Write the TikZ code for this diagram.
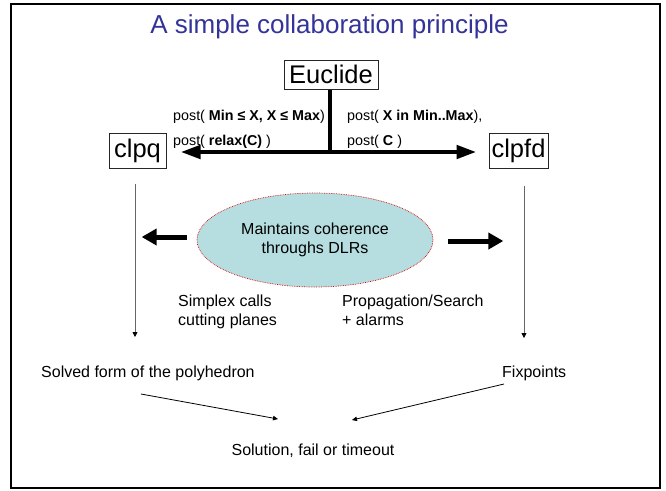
\documentclass[tikz,border=0pt]{standalone}
\usepackage{fontspec}
\setmainfont{Liberation Sans}
\usetikzlibrary{arrows.meta,shapes.geometric}
\definecolor{titleblue}{RGB}{51,51,153}
\definecolor{ellfill}{RGB}{182,222,224}
\begin{document}
\begin{tikzpicture}[x=1pt,y=-1pt,
  box/.style={draw=black!85,line width=1pt,inner sep=0pt,font=\fontsize{25.5}{28}\selectfont},
  lbl/.style={inner sep=0pt,font=\fontsize{14.3}{17}\selectfont},
  txt/.style={inner sep=0pt,font=\fontsize{16}{19.3}\selectfont},
  toparrow/.style={line width=4.5pt,-{Triangle[length=20pt,width=13pt]}},
  sidearrow/.style={line width=5pt,-{Triangle[length=15pt,width=16pt]}},
  thinarrow/.style={draw=black!60,line width=0.8pt,-{Triangle[length=5pt,width=5pt,color=black]}},
  botarrow/.style={draw=black,line width=0.8pt,-{Triangle[length=5pt,width=4.5pt]}}]
\useasboundingbox (0,0) rectangle (666,490);
\draw[line width=2.3pt] (11,3.7) rectangle (660,488);
\node[font=\fontsize{26}{30}\selectfont,text=titleblue,anchor=base,inner sep=0pt] (title) at (329.5,33) {A simple collaboration principle};
\node[box,minimum width=94pt,minimum height=29pt] (eu) at (331,74.5) {Euclide};
\node[box,minimum width=57pt,minimum height=35pt] (clpq) at (137.5,150.5) {clpq};
\node[box,minimum width=59pt,minimum height=35pt] (clpfd) at (518.5,150.5) {clpfd};
% Euclide fan-out
\coordinate (j) at (330,152);
\draw[line width=4.5pt] (j |- eu.south) -- (j);
\draw[toparrow,shorten >=14pt] ([xshift=2.25pt]j) -- (j -| clpq.east);
\draw[toparrow,shorten >=12pt] ([xshift=-2.25pt]j) -- (j -| clpfd.west);
% post labels
\node[lbl,anchor=base west] (p1) at (173,120) {post( \textbf{Min ≤ X, X ≤ Max})};
\node[lbl,anchor=base west] (p2) at (173,145) {post( \textbf{relax(C)} )};
\node[lbl,anchor=base west] (p3) at (347,120) {post( \textbf{X in Min..Max}),};
\node[lbl,anchor=base west] (p4) at (347,145) {post( \textbf{C} )};
% thin vertical arrows
\coordinate (qend) at (135,337);
\coordinate (fend) at (524,338);
\draw[thinarrow] ([yshift=-15pt]clpq.south -| qend) -- (qend);
\draw[thinarrow] ([yshift=-17pt]clpfd.south -| fend) -- (fend);
% ellipse
\node[ellipse,minimum width=236pt,minimum height=94pt,fill=ellfill,draw=red!85!black,densely dotted,line width=0.7pt,align=center,font=\fontsize{16}{18.6}\selectfont,inner sep=0pt] (el) at (315,240) {Maintains coherence\\throughs DLRs};
\draw[sidearrow] ([xshift=-10pt,yshift=3pt]el.west) -- ++(-45,0);
\draw[sidearrow] ([xshift=15pt,yshift=-1pt]el.east) -- ++(55,0);
% side texts
\node[txt,anchor=west,align=left] (simp) at (178,312) {Simplex calls\\cutting planes};
\node[txt,anchor=west,align=left] (prop) at (342,310.5) {Propagation/Search\\+ alarms};
% bottom
\node[txt,anchor=base west] (sf) at (41,377.7) {Solved form of the polyhedron};
\node[txt,anchor=base west] (fx) at (502,377.7) {Fixpoints};
\node[txt,anchor=base] (sol) at (313,455) {Solution, fail or timeout};
\coordinate (a1) at (141,394);
\coordinate (a2) at (278,419);
\coordinate (b1) at (504,384);
\coordinate (b2) at (352,420);
\draw[botarrow] (a1) -- (a2);
\draw[botarrow] (b1) -- (b2);
\end{tikzpicture}
\end{document}
